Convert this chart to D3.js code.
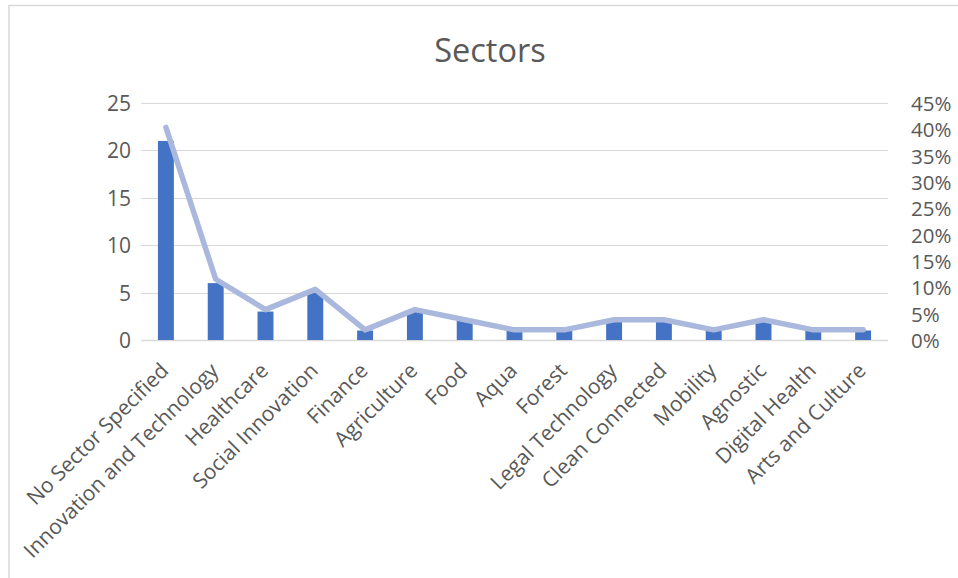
<!DOCTYPE html>
<html>
<head>
<meta charset="utf-8">
<script src="https://cdn.jsdelivr.net/npm/d3@7"></script>
<style>
  html, body { margin: 0; padding: 0; background: #fff; }
  svg { display: block; }
</style>
</head>
<body>
<svg id="chart" width="958" height="578"></svg>
<script>
// Startup count per sector and share of the total
const categories = [
  "No Sector Specified", "Innovation and Technology", "Healthcare",
  "Social Innovation", "Finance", "Agriculture", "Food", "Aqua", "Forest",
  "Legal Technology", "Clean Connected", "Mobility", "Agnostic",
  "Digital Health", "Arts and Culture"
];
const counts = [21, 6, 3, 5, 1, 3, 2, 1, 1, 2, 2, 1, 2, 1, 1];
const total = d3.sum(counts);
const shares = counts.map(c => c / total);
const countTicks = [0, 5, 10, 15, 20, 25];
const shareTicks = [0, 0.05, 0.10, 0.15, 0.20, 0.25, 0.30, 0.35, 0.40, 0.45];

const svg = d3.select("#chart");
const FONT = "'Open Sans', 'Noto Sans', sans-serif";
const TEXT = "#595959";
const GRID = "#D9D9D9";

const plot = { left: 141, right: 888, top: 103, bottom: 340 };

// chart frame
svg.append("path")
  .attr("d", "M9,600 V5.5 H970")
  .attr("fill", "none")
  .attr("stroke", GRID)
  .attr("stroke-width", 1.5);

// title
svg.append("text")
  .attr("x", 490).attr("y", 62)
  .attr("text-anchor", "middle")
  .attr("font-family", FONT)
  .attr("font-size", 32.5)
  .attr("fill", TEXT)
  .text("Sectors");

const x = d3.scaleBand()
  .domain(categories)
  .range([plot.left, plot.right])
  .paddingInner(0.68)
  .paddingOuter(0.34);

const xc = d3.scaleBand().domain(categories).range([plot.left, plot.right]);

const y = d3.scaleLinear().domain([0, 25]).range([plot.bottom, plot.top]);
const y2 = d3.scaleLinear().domain([0, 0.45]).range([plot.bottom, plot.top]);

// gridlines
svg.append("g")
  .selectAll("line")
  .data(countTicks)
  .join("line")
  .attr("x1", plot.left).attr("x2", plot.right)
  .attr("y1", d => Math.round(y(d)) + 0.5)
  .attr("y2", d => Math.round(y(d)) + 0.5)
  .attr("stroke", GRID)
  .attr("stroke-width", d => d === 0 ? 1.5 : 1.2);

// left axis
const leftAxis = svg.append("g")
  .attr("transform", `translate(${plot.left - 10},0)`)
  .call(d3.axisLeft(y).tickValues(countTicks).tickSize(0).tickPadding(0));
leftAxis.select(".domain").remove();
leftAxis.selectAll("text")
  .attr("font-family", FONT).attr("font-size", 21).attr("fill", TEXT)
  .attr("dy", "0.36em");

// right axis
const rightAxis = svg.append("g")
  .attr("transform", `translate(${plot.right + 23},0)`)
  .call(d3.axisRight(y2).tickValues(shareTicks).tickSize(0).tickPadding(0)
    .tickFormat(d3.format(".0%")));
rightAxis.select(".domain").remove();
rightAxis.selectAll("text")
  .attr("font-family", FONT).attr("font-size", 20.5).attr("fill", TEXT)
  .attr("dy", "0.36em");

// bars
svg.append("g")
  .selectAll("rect")
  .data(categories)
  .join("rect")
  .attr("x", (d) => x(d))
  .attr("width", x.bandwidth())
  .attr("y", (d, i) => y(counts[i]))
  .attr("height", (d, i) => y(0) - y(counts[i]))
  .attr("fill", "#4472C4");

// share line
const line = d3.line()
  .x((d, i) => xc(categories[i]) + xc.bandwidth() / 2)
  .y(d => y2(d));

svg.append("path")
  .datum(shares)
  .attr("d", line)
  .attr("fill", "none")
  .attr("stroke", "#A9B8DC")
  .attr("stroke-width", 5.5)
  .attr("stroke-linejoin", "round")
  .attr("stroke-linecap", "round");

// category labels
const bottomAxis = svg.append("g")
  .attr("transform", `translate(0,${plot.bottom})`)
  .call(d3.axisBottom(xc).tickSize(0).tickPadding(0));
bottomAxis.select(".domain").remove();
bottomAxis.selectAll("text")
  .attr("font-family", FONT).attr("font-size", 21).attr("fill", TEXT)
  .attr("text-anchor", "end")
  .attr("dy", null)
  .attr("y", 0)
  .attr("transform", "translate(4,32) rotate(-45)");
</script>
</body>
</html>
